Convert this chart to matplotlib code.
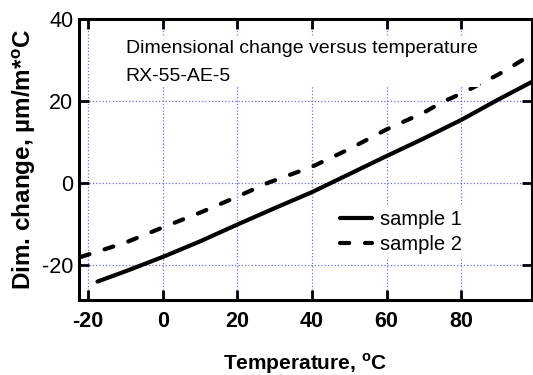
import numpy as np
import matplotlib.pyplot as plt

# values
temp_1 = [-17.5, -10, 0, 10, 20, 30, 40, 45, 50, 60, 70, 80, 90, 99]
dim_1 = [-24.0, -21.5, -18.0, -14.2, -10.1, -6.1, -2.2, 0.0, 2.2, 6.6, 10.9, 15.4, 20.4, 24.7]

temp_2 = [-22, -10, 0, 10, 20, 28, 40, 50, 60, 70, 75, 80, 90, 99]
dim_2 = [-18.0, -14.5, -10.8, -7.2, -3.3, 0.0, 4.0, 8.3, 13.1, 17.2, 19.8, 21.8, 26.5, 31.4]

x_ticks = [-20, 0, 20, 40, 60, 80]
y_ticks = [-20, 0, 20, 40]

plt.rcParams['font.family'] = ['Liberation Sans', 'DejaVu Sans']

fig = plt.figure(figsize=(5.33, 3.75), dpi=100)
ax = fig.add_axes([0.148, 0.2, 0.85, 0.749])

ax.plot(temp_1, dim_1, color='black', lw=3, solid_capstyle='round', label='sample 1')
ax.plot(temp_2, dim_2, color='black', lw=3, dashes=(2.2, 3.8), dash_capstyle='round',
        label='sample 2')

ax.set_xlim(-22.5, 99)
ax.set_ylim(-28.5, 40)
ax.set_xticks(x_ticks)
ax.set_yticks(y_ticks)
ax.set_xticklabels([str(t) for t in x_ticks], fontweight='bold', fontsize=15.5)
ax.set_yticklabels([str(t) for t in y_ticks], fontsize=15.5)

ax.grid(True, color='#6a6aff', linestyle=':', linewidth=0.9)
ax.tick_params(direction='in', length=7, width=2, top=True, right=True)
ax.tick_params(axis='x', pad=8)
ax.tick_params(axis='y', pad=4)
for s in ax.spines.values():
    s.set_linewidth(2.2)

ax.set_xlabel('Temperature, $^{\\mathregular{o}}$C', fontweight='bold', fontsize=15, labelpad=14)
ax.set_ylabel('Dim. change, µm/m*$^{\\mathregular{o}}$C', fontweight='bold', fontsize=17.5, labelpad=3)

ax.text(0.103, 0.925, 'Dimensional change versus temperature\nRX-55-AE-5',
        transform=ax.transAxes, fontsize=14, va='top', ha='left', linespacing=1.8,
        bbox=dict(facecolor='white', edgecolor='none', pad=2))

leg = ax.legend(loc='upper left', bbox_to_anchor=(0.545, 0.37), fontsize=14.5,
                handlelength=1.6, handletextpad=0.4, labelspacing=0.3,
                frameon=True, edgecolor='none', facecolor='white', framealpha=1,
                fancybox=False, borderpad=0.2)

plt.savefig('out.png', dpi=100)
